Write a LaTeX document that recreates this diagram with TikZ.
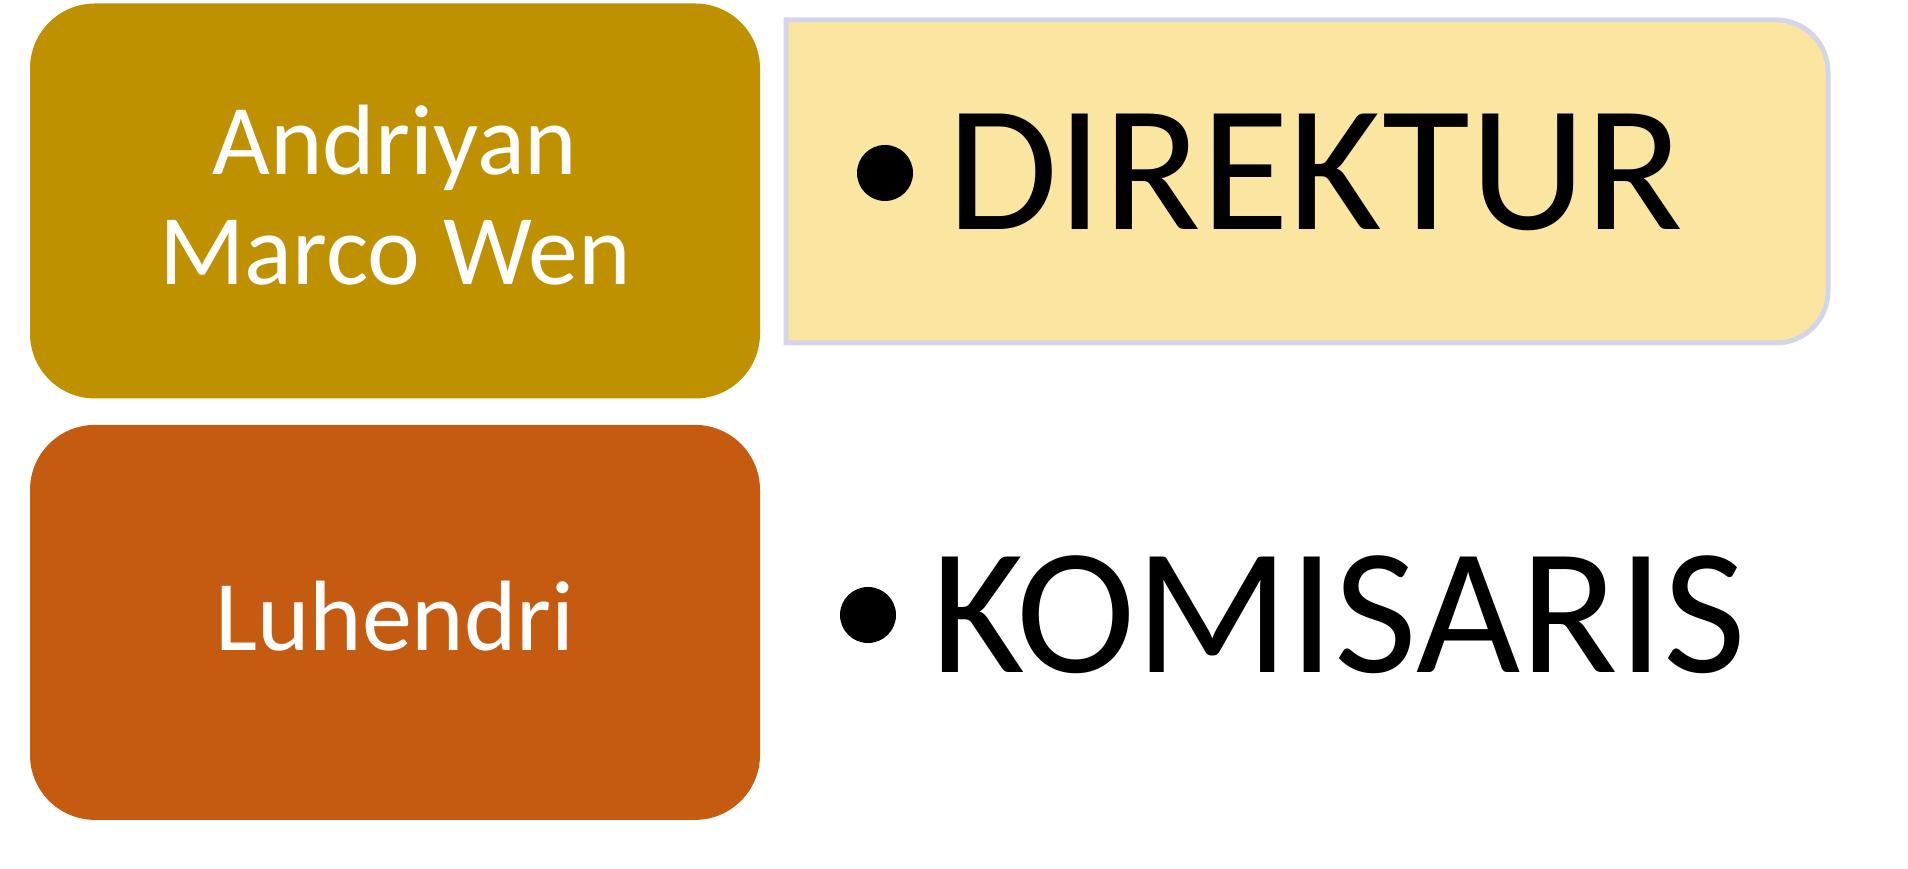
\documentclass[tikz,border=0pt]{standalone}
\usepackage{fontspec}
\setmainfont{Carlito}
\usetikzlibrary{positioning}
\definecolor{namegold}{HTML}{BF9000}
\definecolor{nameorange}{HTML}{C55A11}
\definecolor{roleyellow}{HTML}{FBE6A1}
\definecolor{roleedge}{HTML}{D3D6E8}

\begin{document}
\begin{tikzpicture}[x=1pt,y=1pt,
namebox/.style={rectangle,rounded corners=65pt,minimum width=730pt,minimum height=395pt,
  text=white,align=center,text depth=13pt,font=\fontsize{100}{110}\selectfont},
roletext/.style={inner sep=0pt,anchor=base west,font=\fontsize{180}{200}\selectfont},
bulletdot/.style={circle,fill=black,inner sep=0pt,minimum size=56pt}]
\useasboundingbox (0,0) rectangle (1908,869);
\node[namebox,fill=namegold] (andriyan) at (395,668) {Andriyan\\Marco Wen};
\node[namebox,fill=nameorange,below=26pt of andriyan] (luhendri) {Luhendri};
% yellow box, right corners rounded only
\filldraw[fill=roleyellow,draw=roleedge,line width=5pt]
  (786,526) |- (1776,849) arc[start angle=90,end angle=0,radius=52]
  -- (1828,578) arc[start angle=0,end angle=-90,radius=52] -- cycle;
\node[bulletdot] (dot1) at (885,696) {};
\node[roletext] (direktur) at (947,639) {DIREKTUR};
\node[bulletdot] (dot2) at (868,254) {};
\node[roletext] (komisaris) at (931,196) {KOMISARIS};
\end{tikzpicture}
\end{document}
